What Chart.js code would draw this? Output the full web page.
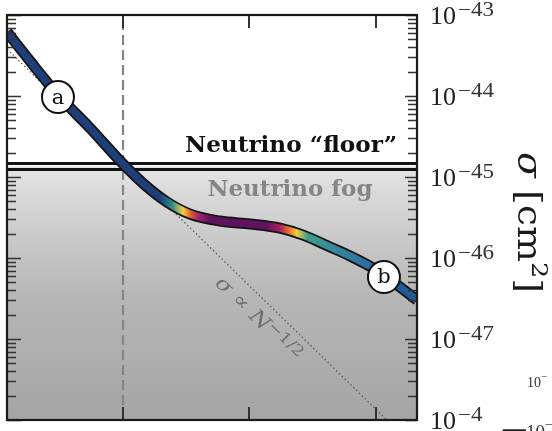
<!DOCTYPE html>
<html><head><meta charset="utf-8">
<script src="https://cdn.jsdelivr.net/npm/chart.js@4.4.1/dist/chart.umd.min.js"></script>
<style>html,body{margin:0;padding:0;background:#fff;}canvas{display:block;}</style>
</head><body>
<canvas id="c" width="552" height="431"></canvas>
<script>
// ---- data ----
const EXPOSURE   = [0.121, 0.184, 0.306, 0.548, 1.0, 1.49, 2.23, 3.39, 5.85, 10.1, 17.4, 26.5, 43.3, 62.3, 94.7, 118, 211];
const SIGMA_DL   = [6.17e-44, 2.70e-44, 1.03e-44, 4.03e-45, 1.45e-45, 7.97e-46, 4.91e-46, 3.49e-46, 2.86e-46, 2.63e-46, 2.34e-46, 1.92e-46, 1.37e-46, 1.06e-46, 7.53e-47, 6.00e-47, 3.03e-47];
const SCALING_N     = [0.121, 122];
const SCALING_SIGMA = [3.80e-44, 1.0e-48];
const FLOOR_SIGMA   = [1.47e-45, 1.24e-45];
const FOG_TOP_SIGMA = 1.37e-45;
const DASHED_N      = 1;
const MARK_N      = [0.306, 115.6];
const MARK_SIGMA  = [9.7e-45, 5.82e-47];
const MARK_LABELS = ['a', 'b'];
const X_RANGE = [0.121, 211];
const Y_RANGE = [1e-48, 1e-43];
const X_TICKS = [1, 10, 100];
const Y_DECADES = [-48, -47, -46, -45, -44, -43];
const Y_TICK_LABELS = ['\u22124', '\u221247', '\u221246', '\u221245', '\u221244', '\u221243'];
// colour stops along the curve (exposure position, colour)
const CURVE_STOP_N   = [1.96, 2.44, 2.98, 3.39, 3.92, 4.87, 13.3, 17.4, 20.9, 23.7, 29.0, 43.3, 81.9, 155];
const CURVE_STOP_COL = ['#1f3f7a','#2b8a8a','#f0d048','#e8662e','#a3246c','#601260','#5e1260','#a8205e','#f07a2c','#f0d040','#3c9e8a','#3a8a98','#2e70a0','#1f5c98'];

const SERIF_T = '"Liberation Serif", "Times New Roman", serif';
const SERIF_D = '"DejaVu Serif", serif';

const pts = (xs, ys) => xs.map((x, i) => ({x, y: ys[i]}));

function curveGradient(chart) {
  const {ctx, chartArea, scales} = chart;
  if (!chartArea || !scales.x) return '#1f3f7a';
  const g = ctx.createLinearGradient(chartArea.left, 0, chartArea.right, 0);
  const W = chartArea.right - chartArea.left;
  CURVE_STOP_N.forEach((n, i) => {
    const f = (scales.x.getPixelForValue(n) - chartArea.left) / W;
    g.addColorStop(Math.min(1, Math.max(0, f)), CURVE_STOP_COL[i]);
  });
  return g;
}
function fogGradient(chart) {
  const {ctx, chartArea, scales} = chart;
  if (!chartArea || !scales.y) return '#c8c8c8';
  const top = scales.y.getPixelForValue(FOG_TOP_SIGMA);
  const g = ctx.createLinearGradient(0, top, 0, chartArea.bottom);
  g.addColorStop(0, '#e6e6e6');
  g.addColorStop(0.08, '#dcdcdc');
  g.addColorStop(0.32, '#c6c6c6');
  g.addColorStop(0.52, '#b6b6b6');
  g.addColorStop(1, '#a5a5a5');
  return g;
}

function drawRuns(ctx, runs, x, y, opts) {
  opts = opts || {};
  ctx.save();
  let total = 0;
  runs.forEach(r => { ctx.font = r.font; r.w = ctx.measureText(r.t).width; total += r.w; });
  const s = opts.target ? opts.target / total : (opts.scale || 1);
  ctx.translate(x, y);
  ctx.scale(s, 1);
  let cx = opts.align === 'center' ? -total / 2 : opts.align === 'right' ? -total : 0;
  ctx.textAlign = 'left';
  ctx.textBaseline = 'alphabetic';
  runs.forEach(r => { ctx.font = r.font; ctx.fillStyle = r.color || opts.color || '#111'; ctx.fillText(r.t, cx, r.dy || 0); cx += r.w; });
  ctx.restore();
  return total * s;
}

const annotations = {
  id: 'annotations',
  afterDatasetsDraw(chart) {
    const {ctx, chartArea: a, scales: {x, y}} = chart;
    ctx.save();
    const floorY = y.getPixelForValue(FLOOR_SIGMA[0]);
    drawRuns(ctx, [{t: 'Neutrino \u201cfloor\u201d', font: 'bold 22px ' + SERIF_D}], a.right - 20, floorY - 11, {align: 'right', target: 212, color: '#111'});
    drawRuns(ctx, [{t: 'Neutrino fog', font: 'bold 22px ' + SERIF_D}], a.left + 283, floorY + 33, {align: 'center', target: 165, color: '#858585'});
    const p0x = x.getPixelForValue(SCALING_N[0]), p0y = y.getPixelForValue(SCALING_SIGMA[0]);
    const p1x = x.getPixelForValue(SCALING_N[1]), p1y = y.getPixelForValue(SCALING_SIGMA[1]);
    const ang = Math.atan2(p1y - p0y, p1x - p0x);
    ctx.save();
    ctx.translate(a.left + 252, a.top + 303);
    ctx.rotate(ang);
    drawRuns(ctx, [
      {t: '\u03c3', font: 'italic 20px ' + SERIF_D},
      {t: ' \u221d ', font: '20px ' + SERIF_D},
      {t: 'N', font: 'italic 20px ' + SERIF_D},
      {t: '\u22121/2', font: '15px ' + SERIF_D, dy: -6}
    ], 0, 7, {align: 'center', target: 112, color: '#707070'});
    ctx.restore();
    const meta = chart.getDatasetMeta(chart.data.datasets.length - 1);
    meta.data.forEach((pt, i) => {
      ctx.fillStyle = '#111';
      ctx.font = '21px ' + SERIF_D;
      ctx.textAlign = 'center';
      ctx.textBaseline = 'middle';
      ctx.fillText(MARK_LABELS[i], pt.x, pt.y + 1);
    });
    ctx.restore();
  },
  afterDraw(chart) {
    const {ctx, chartArea: a, scales: {x, y}} = chart;
    ctx.save();
    ctx.strokeStyle = '#333';
    ctx.lineWidth = 1.6;
    ctx.beginPath();
    Y_DECADES.forEach((d, i) => {
      const py = Math.round(y.getPixelForValue(Math.pow(10, d))) + 0.5;
      ctx.moveTo(a.left, py); ctx.lineTo(a.left + 14, py);
      ctx.moveTo(a.right, py); ctx.lineTo(a.right - 12, py);
      if (i < Y_DECADES.length - 1) {
        for (let k = 2; k <= 9; k++) {
          const my = Math.round(y.getPixelForValue(k * Math.pow(10, d))) + 0.5;
          ctx.moveTo(a.left, my); ctx.lineTo(a.left + 9, my);
          ctx.moveTo(a.right, my); ctx.lineTo(a.right - 9, my);
        }
      }
    });
    ctx.stroke();
    ctx.lineWidth = 2;
    ctx.beginPath();
    X_TICKS.forEach(v => {
      const px = Math.round(x.getPixelForValue(v));
      ctx.moveTo(px, a.top); ctx.lineTo(px, a.top + 13);
      ctx.moveTo(px, a.bottom); ctx.lineTo(px, a.bottom - 13);
    });
    ctx.stroke();
    ctx.strokeStyle = '#1a1a1a';
    ctx.lineWidth = 2.2;
    ctx.strokeRect(a.left, a.top, a.right - a.left, a.bottom - a.top);
    Y_DECADES.forEach((d, i) => {
      const py = y.getPixelForValue(Math.pow(10, d));
      const w = drawRuns(ctx, [{t: '10', font: '26px ' + SERIF_T}], a.right + 13, py + 9, {color: '#222'});
      drawRuns(ctx, [{t: Y_TICK_LABELS[i], font: '20px ' + SERIF_T}], a.right + 13 + w + 2, py + 1, {scale: 1.15, color: '#333'});
    });
    ctx.save();
    ctx.translate(518, (a.top + a.bottom) / 2 + 5);
    ctx.rotate(Math.PI / 2);
    drawRuns(ctx, [
      {t: '\u03c3', font: 'italic 34px ' + SERIF_D},
      {t: ' [cm', font: '34px ' + SERIF_D},
      {t: '2', font: '23px ' + SERIF_D, dy: -14},
      {t: ']', font: '34px ' + SERIF_D}
    ], 0, 0, {align: 'center', target: 141, color: '#1a1a1a'});
    ctx.restore();
    drawRuns(ctx, [{t: '10', font: '14px ' + SERIF_T}, {t: '\u2212', font: '11px ' + SERIF_T, dy: -7}], 527, 387, {color: '#333'});
    drawRuns(ctx, [{t: '10', font: '19px ' + SERIF_T}, {t: '\u2212', font: '14px ' + SERIF_T, dy: -9}], 526, 438, {color: '#333'});
    ctx.save();
    ctx.translate(506, 432);
    ctx.rotate(Math.PI / 2);
    drawRuns(ctx, [{t: '[', font: '26px ' + SERIF_D}], 0, 0, {align: 'center', color: '#222'});
    ctx.restore();
    ctx.restore();
  }
};

new Chart(document.getElementById('c'), {
  type: 'line',
  data: {
    datasets: [
      {
        data: pts(X_RANGE, [FOG_TOP_SIGMA, FOG_TOP_SIGMA]),
        borderWidth: 0, pointRadius: 0, fill: 'start',
        backgroundColor: c => fogGradient(c.chart), order: 9
      },
      {
        data: pts(SCALING_N, SCALING_SIGMA),
        borderColor: '#555', borderWidth: 1.2, borderDash: [1.5, 2.5], pointRadius: 0, fill: false, order: 8
      },
      {
        data: pts([DASHED_N, DASHED_N], Y_RANGE),
        borderColor: '#858585', borderWidth: 2.2, borderDash: [10, 5], pointRadius: 0, fill: false, order: 7
      },
      {
        data: pts(X_RANGE, [FLOOR_SIGMA[0], FLOOR_SIGMA[0]]),
        borderColor: '#111', borderWidth: 3, pointRadius: 0, fill: false, order: 6
      },
      {
        data: pts(X_RANGE, [FLOOR_SIGMA[1], FLOOR_SIGMA[1]]),
        borderColor: '#111', borderWidth: 3, pointRadius: 0, fill: false, order: 6
      },
      {
        data: pts(EXPOSURE, SIGMA_DL),
        borderColor: '#141414', borderWidth: 11, pointRadius: 0, fill: false,
        cubicInterpolationMode: 'monotone', clip: 0, order: 5
      },
      {
        data: pts(EXPOSURE, SIGMA_DL),
        borderColor: c => curveGradient(c.chart), borderWidth: 7.5, pointRadius: 0, fill: false,
        cubicInterpolationMode: 'monotone', clip: 0, order: 4
      },
      {
        data: pts(MARK_N, MARK_SIGMA),
        showLine: false, pointRadius: 16, pointBorderWidth: 2,
        pointBackgroundColor: '#fff', pointBorderColor: '#111', clip: false, order: 1
      }
    ]
  },
  options: {
    responsive: false, animation: false, devicePixelRatio: 1,
    layout: {autoPadding: false, padding: {left: 7, top: 15, right: 135, bottom: 11}},
    plugins: {legend: {display: false}, tooltip: {enabled: false}},
    scales: {
      x: {type: 'logarithmic', min: X_RANGE[0], max: X_RANGE[1], display: false},
      y: {type: 'logarithmic', min: Y_RANGE[0], max: Y_RANGE[1], display: false}
    }
  },
  plugins: [annotations]
});
</script>
</body></html>
